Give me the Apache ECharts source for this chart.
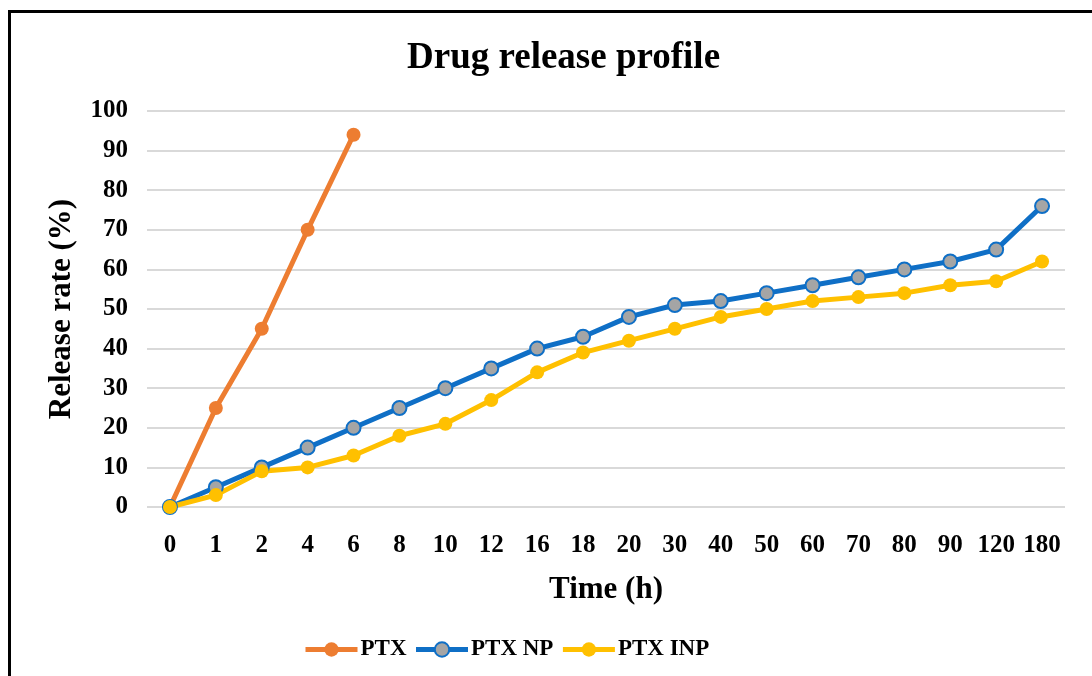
<!DOCTYPE html>
<html>
<head>
<meta charset="utf-8">
<script src="https://cdn.jsdelivr.net/npm/echarts@6/dist/echarts.min.js"></script>
<style>
  html, body { margin: 0; padding: 0; background: #fff; }
  #frame {
    position: absolute; left: 8px; top: 10px; width: 1084px; height: 666px;
    border-left: 3px solid #000; border-top: 3px solid #000; box-sizing: border-box;
  }
  #chart { position: absolute; left: 0; top: 0; width: 1092px; height: 676px; }
</style>
</head>
<body>
<div id="frame"></div>
<div id="chart"></div>
<script>
const times = ['0', '1', '2', '4', '6', '8', '10', '12', '16', '18', '20', '30', '40', '50', '60', '70', '80', '90', '120', '180']
const ptx = [0, 25, 45, 70, 94]
const ptxNp = [0, 5, 10, 15, 20, 25, 30, 35, 40, 43, 48, 51, 52, 54, 56, 58, 60, 62, 65, 76]
const ptxInp = [0, 3, 9, 10, 13, 18, 21, 27, 34, 39, 42, 45, 48, 50, 52, 53, 54, 56, 57, 62]

const font = '"Liberation Serif", "Times New Roman", serif'
const chart = echarts.init(document.getElementById('chart'))

const lineSeries = (name, data, color, fill) => ({
  name,
  type: 'line',
  data,
  symbol: 'circle',
  symbolSize: 14,
  lineStyle: { color, width: 5 },
  itemStyle: { color: fill, borderColor: color, borderWidth: fill === color ? 0 : 2 },
  emphasis: { disabled: true },
  z: 3,
})

chart.setOption({
  animation: false,
  title: {
    text: 'Drug release profile',
    left: 402,
    top: 35,
    textStyle: { fontFamily: font, fontWeight: 'bold', fontSize: 37, color: '#000' },
  },
  legend: {
    bottom: 10,
    left: 298,
    itemWidth: 52,
    itemHeight: 18,
    itemGap: 7,
    lineStyle: { width: 5 },
    textStyle: { fontFamily: font, fontWeight: 'bold', fontSize: 23, color: '#000', padding: [0, 0, 0, -2] },
    data: ['PTX', 'PTX NP', 'PTX INP'],
  },
  grid: { left: 147, right: 27, top: 111, bottom: 169 },
  xAxis: {
    type: 'category',
    data: times,
    name: 'Time (h)',
    nameLocation: 'middle',
    nameGap: 67,
    nameTextStyle: { fontFamily: font, fontWeight: 'bold', fontSize: 31, color: '#000' },
    axisLine: { show: false },
    axisTick: { show: false },
    axisLabel: { fontFamily: font, fontWeight: 'bold', fontSize: 25, color: '#000', margin: 26, interval: 0 },
  },
  yAxis: {
    type: 'value',
    min: 0,
    max: 100,
    interval: 10,
    name: 'Release rate (%)',
    nameLocation: 'middle',
    nameGap: 70,
    nameTextStyle: { fontFamily: font, fontWeight: 'bold', fontSize: 31, color: '#000' },
    axisLabel: { fontFamily: font, fontWeight: 'bold', fontSize: 25, color: '#000', margin: 19 },
    splitLine: { lineStyle: { color: '#d9d9d9', width: 2 } },
  },
  series: [
    lineSeries('PTX', ptx, '#ED7D31', '#ED7D31'),
    lineSeries('PTX NP', ptxNp, '#0F6FC6', '#A5A5A5'),
    lineSeries('PTX INP', ptxInp, '#FFC000', '#FFC000'),
  ],
})
</script>
</body>
</html>
